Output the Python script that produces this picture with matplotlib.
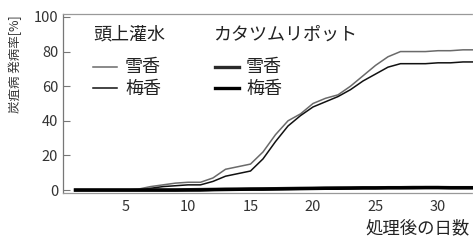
import matplotlib
matplotlib.use("Agg")
import matplotlib.pyplot as plt
from matplotlib.lines import Line2D

plt.rcParams['font.family'] = ['Noto Sans CJK JP', 'DejaVu Sans']

# days after treatment
days = list(range(1, 34))

# 頭上灌水 (overhead irrigation)
overhead_yukika = [0, 0, 0, 0, 0, 0.5, 2, 3, 4, 4.5, 4.5, 7, 12, 13.5, 15, 22, 32,
                   40, 44, 50, 53, 55, 60, 66, 72, 77, 80, 80, 80, 80.5, 80.5, 81, 81]
overhead_umeka = [0, 0, 0, 0, 0, 0, 1, 2, 2.5, 3, 3, 5, 8, 9.5, 11, 18, 28,
                  37, 43, 48, 51, 54, 58, 63, 67, 71, 73, 73, 73, 73.5, 73.5, 74, 74]

# カタツムリポット (snail pot)
pot_yukika = [0, 0, 0, 0, 0, 0, 0, 0, 0, 0.2, 0.3, 0.4, 0.5, 0.5, 0.6, 0.7, 0.8,
              0.9, 1, 1, 1.1, 1.2, 1.2, 1.3, 1.3, 1.4, 1.4, 1.5, 1.5, 1.5, 1.4, 1.4, 1.4]
pot_umeka = [0, 0, 0, 0, 0, 0, 0, 0, 0, 0, 0, 0.2, 0.3, 0.4, 0.5, 0.5, 0.6,
             0.7, 0.8, 0.9, 1, 1, 1.1, 1.2, 1.2, 1.3, 1.3, 1.3, 1.4, 1.4, 1.3, 1.3, 1.3]

yticks = [0, 20, 40, 60, 80, 100]
xticks = [5, 10, 15, 20, 25, 30]

fig = plt.figure(figsize=(4.73, 2.4), dpi=100)
ax = fig.add_axes([63 / 473, 1 - 193 / 240, 1 - 63 / 473, (193 - 14) / 240])

ax.plot(days, overhead_yukika, color='#6a6a6a', lw=1.1)
ax.plot(days, overhead_umeka, color='#111111', lw=1.1)
ax.plot(days, pot_yukika, color='#2a2a2a', lw=2.4)
ax.plot(days, pot_umeka, color='#000000', lw=2.4)

ax.set_xlim(0, 32.8)
ax.set_ylim(-1.7, 101.7)
ax.set_yticks(yticks)
ax.set_xticks(xticks)
ax.tick_params(axis='y', direction='in', length=5, width=0.8, color='#777777',
               labelsize=10.5, pad=3.5, labelcolor='#333333')
ax.tick_params(axis='x', length=0, labelsize=10.5, pad=5, labelcolor='#333333')

ax.spines['right'].set_visible(False)
ax.spines['left'].set_color('#777777')
ax.spines['left'].set_linewidth(0.9)
for s in ['top', 'bottom']:
    ax.spines[s].set_color('#999999')
    ax.spines[s].set_linewidth(0.9)
    ax.spines[s].set_linestyle((0, (1, 1)))

# legend drawn by hand, two groups side by side
tr = fig.transFigure
fig.text(93 / 473, 1 - 35 / 240, '頭上灌水', fontsize=13, va='center', ha='left', color='#222222')
fig.text(213 / 473, 1 - 35 / 240, 'カタツムリポット', fontsize=13, va='center', ha='left', color='#222222')
for row_y, name in [(67, '雪香'), (89, '梅香')]:
    yy = 1 - row_y / 240
    fig.text(125 / 473, yy, name, fontsize=13, va='center', ha='left', color='#222222')
    fig.text(246 / 473, yy, name, fontsize=13, va='center', ha='left', color='#222222')
fig.add_artist(Line2D([93 / 473, 117 / 473], [1 - 67 / 240] * 2, transform=tr, color='#6a6a6a', lw=1.1))
fig.add_artist(Line2D([93 / 473, 117 / 473], [1 - 88 / 240] * 2, transform=tr, color='#111111', lw=1.1))
fig.add_artist(Line2D([215 / 473, 239 / 473], [1 - 67 / 240] * 2, transform=tr, color='#2a2a2a', lw=2.4))
fig.add_artist(Line2D([215 / 473, 239 / 473], [1 - 88 / 240] * 2, transform=tr, color='#000000', lw=2.4))

fig.text(15 / 473, 1 - 64 / 240, '炭疽病 発病率[%]', rotation=90, fontsize=9,
         ha='center', va='center', color='#333333')
fig.text(470 / 473, 1 - 228 / 240, '処理後の日数', fontsize=12.5, ha='right', va='center',
         color='#222222')

fig.savefig('out.png', dpi=100)
